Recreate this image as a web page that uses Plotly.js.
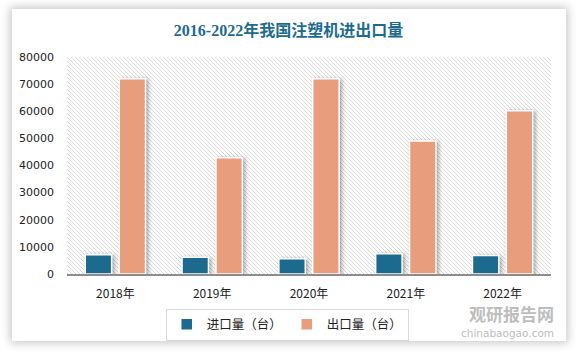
<!DOCTYPE html>
<html>
<head>
<meta charset="utf-8">
<script src="https://cdn.plot.ly/plotly-3.0.1.min.js"></script>
<style>
html,body{margin:0;padding:0;background:#ffffff;}
#wrap{position:relative;width:577px;height:355px;overflow:hidden;background:#ffffff;}
#card{position:absolute;left:12px;top:9px;width:554px;height:332px;background:#ffffff;box-shadow:0 0 9px 2px rgba(0,0,0,0.22);}
#hatch{position:absolute;left:67px;top:57px;width:484px;height:217px;
background-image:url("data:image/svg+xml,%3Csvg xmlns='http://www.w3.org/2000/svg' width='4' height='4'%3E%3Cpath d='M-1,-1 L5,5 M-1,3 L1,5 M3,-1 L5,1' stroke='%23d6d6d6' stroke-width='0.9'/%3E%3C/svg%3E");
background-size:4px 4px;}
#chart{position:absolute;left:0;top:0;width:577px;height:355px;}
#chart .bars path{filter:drop-shadow(2px 1px 2px rgba(0,0,0,0.35));}
</style>
</head>
<body>
<div id="wrap">
<div id="card"></div>
<div id="hatch"></div>
<div id="chart"></div>
</div>
<script>
const categories = ['2018年','2019年','2020年','2021年','2022年'];
const importValues = [7100, 6200, 5600, 7500, 6800];
const exportValues = [72000, 42900, 72000, 49000, 60200];
const seriesNames = ['进口量（台）','出口量（台）'];
const yTicks = [0,10000,20000,30000,40000,50000,60000,70000,80000];

const cjk = '"Noto Sans CJK SC", "Noto Sans", sans-serif';

const traces = [
  {type:'bar', name:seriesNames[0], x:categories, y:importValues,
   marker:{color:'#1c6b8f', line:{color:'#ffffff', width:1.5}}, hoverinfo:'skip'},
  {type:'bar', name:seriesNames[1], x:categories, y:exportValues,
   marker:{color:'#e89d7c', line:{color:'#ffffff', width:1.5}}, hoverinfo:'skip'}
];

const layout = {
  width:577, height:355,
  paper_bgcolor:'rgba(0,0,0,0)', plot_bgcolor:'rgba(0,0,0,0)',
  margin:{l:67, r:26, t:57, b:81, pad:0},
  barmode:'group', bargap:0.3, bargroupgap:0.22,
  showlegend:true,
  title:{text:'<b>2016-2022年我国注塑机进出口量</b>', x:0.5, xanchor:'center', y:0.915, yanchor:'middle',
         font:{family:'"Liberation Serif", "Noto Sans CJK SC", serif', size:16, color:'#1c6b8f'}},
  xaxis:{type:'category', showgrid:false, zeroline:false, showline:true, linecolor:'#8c8c8c', linewidth:1.5,
         ticks:'', tickfont:{family:cjk, size:12, color:'#222222'}, ticklabelstandoff:8},
  yaxis:{range:[0,80000], tickvals:yTicks, ticktext:yTicks.map(String), showgrid:false, zeroline:false,
         showline:false, ticks:'', tickfont:{family:'"DejaVu Sans", sans-serif', size:11, color:'#222222'},
         ticklabelstandoff:12},
  legend:{orientation:'h', x:0.455, xanchor:'center', y:-0.16, yanchor:'top',
          bordercolor:'#d9d9d9', borderwidth:1, bgcolor:'rgba(255,255,255,0)',
          font:{family:cjk, size:12.5, color:'#222222'}, itemwidth:30, tracegroupgap:0},
  annotations:[
    {xref:'paper', yref:'paper', x:1.01, y:-0.18, xanchor:'right', yanchor:'middle', showarrow:false,
     text:'<b>观研报告网</b>', font:{family:cjk, size:17, color:'#bdbdbd'}},
    {xref:'paper', yref:'paper', x:1.01, y:-0.272, xanchor:'right', yanchor:'middle', showarrow:false,
     text:'chinabaogao.com', font:{family:'"DejaVu Sans", sans-serif', size:10.5, color:'#bdbdbd'}}
  ]
};

Plotly.newPlot('chart', traces, layout, {displayModeBar:false, staticPlot:true});
</script>
</body>
</html>
